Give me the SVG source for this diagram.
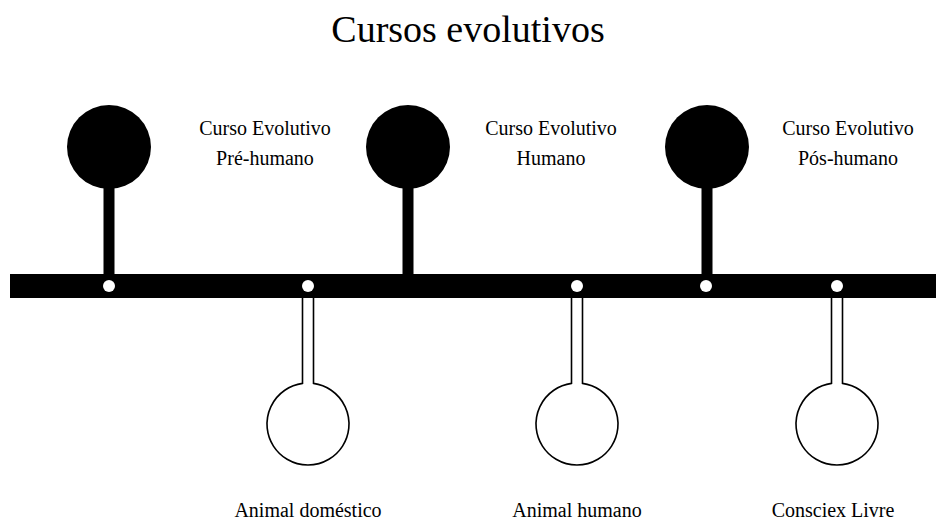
<svg xmlns="http://www.w3.org/2000/svg" width="936" height="520" viewBox="0 0 936 520">
<style>
text{font-family:'Liberation Serif','Times New Roman',Times,'DejaVu Serif',serif;fill:#000;text-anchor:middle}
.lbl{font-size:20px}
.title{font-size:38px}
.pin{fill:#000}
.dot{fill:#fff}
.hollow{fill:#fff;stroke:#000;stroke-width:1.6}
</style>
<rect width="936" height="520" fill="#fff"/>
<text class="title" font-family="Liberation Serif, serif" x="468" y="42">Cursos evolutivos</text>
<g id="connectors">
<rect x="10" y="274" width="926" height="24" fill="#000"/>
</g>
<g id="n1">
<rect class="pin" x="103.5" y="147" width="11" height="130"/>
<circle class="pin" cx="109" cy="147" r="42"/>
<circle class="dot" cx="109" cy="286" r="6"/>
<text class="lbl" font-family="Liberation Serif, serif" x="265" y="135">Curso Evolutivo</text>
<text class="lbl" font-family="Liberation Serif, serif" x="265" y="165">Pré-humano</text>
</g>
<g id="n2">
<rect class="pin" x="402.5" y="147" width="11" height="130"/>
<circle class="pin" cx="408" cy="147" r="42"/>
<text class="lbl" font-family="Liberation Serif, serif" x="551" y="135">Curso Evolutivo</text>
<text class="lbl" font-family="Liberation Serif, serif" x="551" y="165">Humano</text>
</g>
<g id="n3">
<rect class="pin" x="701.5" y="147" width="11" height="130"/>
<circle class="pin" cx="707" cy="147" r="42"/>
<circle class="dot" cx="706" cy="286" r="6"/>
<text class="lbl" font-family="Liberation Serif, serif" x="848" y="135">Curso Evolutivo</text>
<text class="lbl" font-family="Liberation Serif, serif" x="848" y="165">Pós-humano</text>
</g>
<g id="n4">
<circle class="dot" cx="308" cy="286" r="6"/>
<path class="hollow" d="M302.5 298 V383.4 A41 41 0 1 0 313.5 383.4 V298"/>
<text class="lbl" font-family="Liberation Serif, serif" x="308" y="517">Animal doméstico</text>
</g>
<g id="n5">
<circle class="dot" cx="577" cy="286" r="6"/>
<path class="hollow" d="M571.5 298 V383.4 A41 41 0 1 0 582.5 383.4 V298"/>
<text class="lbl" font-family="Liberation Serif, serif" x="577" y="517">Animal humano</text>
</g>
<g id="n6">
<circle class="dot" cx="837" cy="286" r="6"/>
<path class="hollow" d="M831.5 298 V383.4 A41 41 0 1 0 842.5 383.4 V298"/>
<text class="lbl" font-family="Liberation Serif, serif" x="833" y="517">Consciex Livre</text>
</g>
</svg>
